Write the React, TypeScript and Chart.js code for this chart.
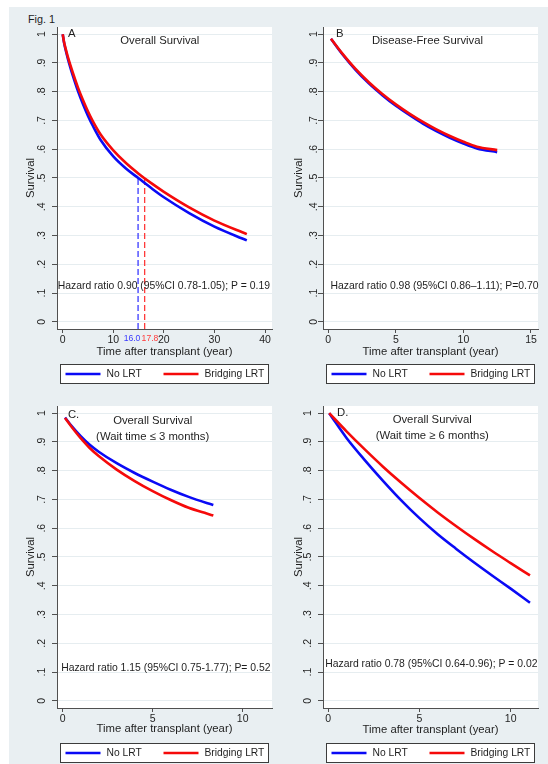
import React, { useEffect, useRef } from 'react';
import { Chart, registerables } from 'chart.js';

Chart.register(...registerables);

const FONT = '"Liberation Sans", Arial, Helvetica, sans-serif';

// ---------- shared ----------
const seriesLabels = ['No LRT', 'Bridging LRT'];
const seriesColors = ['#0a0af5', '#f50a0a'];
const yTicks = [0, 0.1, 0.2, 0.3, 0.4, 0.5, 0.6, 0.7, 0.8, 0.9, 1];
const yTickLabels = ['0', '.1', '.2', '.3', '.4', '.5', '.6', '.7', '.8', '.9', '1'];
const xAxisTitle = 'Time after transplant (year)';
const yAxisTitle = 'Survival';

// ---------- Panel A: Overall Survival ----------
const aTime = [0, 0.25, 0.5, 1, 1.5, 2, 3, 4, 5, 6, 7.5, 10, 12.5, 15, 17.5, 20, 25, 30, 36.4];
const aNoLRT = [1, 0.972, 0.951, 0.916, 0.885, 0.856, 0.803, 0.757, 0.716, 0.68, 0.632, 0.575, 0.533, 0.499, 0.465, 0.433, 0.378, 0.331, 0.283];
const aBridging = [1, 0.974, 0.955, 0.922, 0.893, 0.866, 0.815, 0.771, 0.731, 0.696, 0.651, 0.596, 0.552, 0.515, 0.482, 0.452, 0.398, 0.352, 0.305];
const aXTicks = [0, 10, 20, 30, 40];
const aMedianX = [14.9, 16.2];
const aMedianLabels = ['16.0', '17.8'];
const aMedianLabelX = [13.7, 17.25];
const aHazard = 'Hazard ratio 0.90 (95%CI 0.78-1.05); P = 0.19';

// ---------- Panel B: Disease-Free Survival ----------
const bTime = [0.2, 1, 2, 3, 4, 5, 6, 7, 8, 9, 10, 11, 12.5];
const bNoLRT = [0.984, 0.933, 0.877, 0.829, 0.788, 0.751, 0.719, 0.689, 0.663, 0.64, 0.62, 0.603, 0.59];
const bBridging = [0.984, 0.935, 0.88, 0.833, 0.792, 0.756, 0.724, 0.695, 0.669, 0.646, 0.626, 0.609, 0.597];
const bXTicks = [0, 5, 10, 15];
const bHazard = 'Hazard ratio 0.98 (95%CI 0.86\u20131.11); P=0.70';

// ---------- Panel C: Overall Survival, wait <= 3 months ----------
const cTime = [0.13, 0.5, 1, 1.5, 2, 3, 4, 5, 6, 7, 8, 8.37];
const cNoLRT = [0.985, 0.955, 0.92, 0.89, 0.866, 0.826, 0.792, 0.762, 0.734, 0.709, 0.688, 0.681];
const cBridging = [0.983, 0.952, 0.913, 0.879, 0.851, 0.804, 0.764, 0.729, 0.698, 0.671, 0.651, 0.644];
const cXTicks = [0, 5, 10];
const cHazard = 'Hazard ratio 1.15 (95%CI 0.75-1.77); P= 0.52';

// ---------- Panel D: Overall Survival, wait >= 6 months ----------
const dTime = [0.05, 1, 2, 3, 4, 5, 6, 7, 8, 9, 10, 11.06];
const dNoLRT = [1, 0.914, 0.837, 0.765, 0.697, 0.635, 0.579, 0.529, 0.481, 0.435, 0.39, 0.341];
const dBridging = [1, 0.937, 0.874, 0.814, 0.758, 0.705, 0.655, 0.608, 0.563, 0.52, 0.479, 0.436];
const dXTicks = [0, 5, 10];
const dHazard = 'Hazard ratio 0.78 (95%CI 0.64-0.96); P = 0.02';

type Panel = {
  key: string;
  left: number;
  top: number;
  time: number[];
  noLRT: number[];
  bridging: number[];
  xMin: number;
  xMax: number;
  xTicks: number[];
  letter: string;
  letterX: number;
  letterY: number;
  title: string[];
  titleX: number;
  titleY: number[];
  hazard: string;
  hazardX: number;
  hazardY: number;
  yLabelGap: number;
  yTitleX: number;
  xTitleGap: number;
  medians: boolean;
};

const Y_MIN = -0.025;
const Y_MAX = 1.025;
const CW = 282;
const CH = 390;

const panels: Panel[] = [
  {
    key: 'A', left: 0, top: 0, time: aTime, noLRT: aNoLRT, bridging: aBridging,
    xMin: -1.13, xMax: 41.38, xTicks: aXTicks,
    letter: 'A', letterX: 1.05, letterY: 1.0,
    title: ['Overall Survival'], titleX: 19.2, titleY: [0.977],
    hazard: aHazard, hazardX: 20.0, hazardY: 0.1225,
    yLabelGap: 14.5, yTitleX: 30.5, xTitleGap: 22.5, medians: true,
  },
  {
    key: 'B', left: 266, top: 0, time: bTime, noLRT: bNoLRT, bridging: bBridging,
    xMin: -0.39, xMax: 15.52, xTicks: bXTicks,
    letter: 'B', letterX: 0.57, letterY: 1.0,
    title: ['Disease-Free Survival'], titleX: 7.34, titleY: [0.977],
    hazard: bHazard, hazardX: 7.86, hazardY: 0.1225,
    yLabelGap: 8.5, yTitleX: 32.7, xTitleGap: 22.5, medians: false,
  },
  {
    key: 'C', left: 0, top: 379, time: cTime, noLRT: cNoLRT, bridging: cBridging,
    xMin: -0.317, xMax: 11.63, xTicks: cXTicks,
    letter: 'C.', letterX: 0.29, letterY: 0.994,
    title: ['Overall Survival', '(Wait time \u2264 3 months)'], titleX: 5.0, titleY: [0.972, 0.916],
    hazard: cHazard, hazardX: 5.73, hazardY: 0.114,
    yLabelGap: 14.5, yTitleX: 30.5, xTitleGap: 20.5, medians: false,
  },
  {
    key: 'D', left: 266, top: 379, time: dTime, noLRT: dNoLRT, bridging: dBridging,
    xMin: -0.29, xMax: 11.5, xTicks: dXTicks,
    letter: 'D.', letterX: 0.48, letterY: 1.0,
    title: ['Overall Survival', '(Wait time \u2265 6 months)'], titleX: 5.7, titleY: [0.977, 0.921],
    hazard: dHazard, hazardX: 5.65, hazardY: 0.127,
    yLabelGap: 14.5, yTitleX: 32.7, xTitleGap: 21.5, medians: false,
  },
];

const TEXT = '#1e1e1e';
const AXIS = '#505050';
const GRID = '#e6edf0';

function makePlugin(p: Panel) {
  return {
    id: 'panelDecor' + p.key,
    beforeDraw(chart: any) {
      const { ctx, chartArea: ca } = chart;
      ctx.save();
      ctx.fillStyle = '#ffffff';
      ctx.fillRect(ca.left, ca.top, ca.right - ca.left, ca.bottom - ca.top);
      ctx.restore();
    },
    afterDraw(chart: any) {
      const { ctx, chartArea: ca } = chart;
      const xs = chart.scales.x;
      const ys = chart.scales.y;
      ctx.save();
      // rotated y tick labels
      ctx.fillStyle = TEXT;
      ctx.font = `10.5px ${FONT}`;
      ctx.textAlign = 'center';
      ctx.textBaseline = 'middle';
      yTicks.forEach((v, i) => {
        const py = ys.getPixelForValue(v);
        ctx.save();
        ctx.translate(ca.left - p.yLabelGap, py);
        ctx.rotate(-Math.PI / 2);
        ctx.fillText(yTickLabels[i], 0, 0);
        ctx.restore();
      });
      // panel letter
      ctx.font = `11.3px ${FONT}`;
      ctx.textAlign = 'left';
      ctx.fillText(p.letter, xs.getPixelForValue(p.letterX), ys.getPixelForValue(p.letterY));
      // panel title
      ctx.textAlign = 'center';
      p.title.forEach((t, i) => {
        ctx.fillText(t, xs.getPixelForValue(p.titleX), ys.getPixelForValue(p.titleY[i]));
      });
      // hazard ratio
      ctx.font = `10.4px ${FONT}`;
      ctx.fillText(p.hazard, xs.getPixelForValue(p.hazardX), ys.getPixelForValue(p.hazardY));
      // median labels
      if (p.medians) {
        ctx.font = `8.6px ${FONT}`;
        aMedianLabels.forEach((t, i) => {
          ctx.fillStyle = i === 0 ? '#3a3aff' : '#ff3a3a';
          ctx.fillText(t, xs.getPixelForValue(aMedianLabelX[i]), ca.bottom + 10);
        });
      }
      // legend box
      const bx = Math.round(ca.left + 3) + 0.5;
      const by = Math.round(ca.bottom + 35) + 0.5;
      const bw = 208;
      const bh = 19;
      ctx.fillStyle = '#ffffff';
      ctx.fillRect(bx, by, bw, bh);
      ctx.strokeStyle = '#3c3c3c';
      ctx.lineWidth = 1;
      ctx.strokeRect(bx, by, bw, bh);
      const my = by + bh / 2;
      const itemOffsets = [5, 103];
      ctx.font = `10.3px ${FONT}`;
      ctx.textAlign = 'left';
      seriesLabels.forEach((lab, i) => {
        const x0 = bx + itemOffsets[i];
        ctx.strokeStyle = seriesColors[i];
        ctx.lineWidth = 2.6;
        ctx.beginPath();
        ctx.moveTo(x0, my);
        ctx.lineTo(x0 + 35, my);
        ctx.stroke();
        ctx.fillStyle = TEXT;
        ctx.fillText(lab, x0 + 41, my + 0.5);
      });
      ctx.restore();
    },
  };
}

function PanelChart({ p }: { p: Panel }) {
  const ref = useRef<HTMLCanvasElement | null>(null);
  useEffect(() => {
    const canvas = ref.current;
    if (!canvas) return;
    const datasets: any[] = [
      {
        label: seriesLabels[0],
        data: p.time.map((t, i) => ({ x: t, y: p.noLRT[i] })),
        borderColor: seriesColors[0],
        borderWidth: 2.6,
        pointRadius: 0,
        cubicInterpolationMode: 'monotone',
        fill: false,
        order: 1,
      },
      {
        label: seriesLabels[1],
        data: p.time.map((t, i) => ({ x: t, y: p.bridging[i] })),
        borderColor: seriesColors[1],
        borderWidth: 2.6,
        pointRadius: 0,
        cubicInterpolationMode: 'monotone',
        fill: false,
        order: 0,
      },
    ];
    if (p.medians) {
      aMedianX.forEach((mx, i) => {
        datasets.push({
          label: 'median ' + seriesLabels[i],
          data: [{ x: mx, y: Y_MIN }, { x: mx, y: 0.5 }],
          borderColor: i === 0 ? '#3a3aff' : '#ff3a3a',
          borderWidth: 1.3,
          borderDash: [6, 3],
          pointRadius: 0,
          fill: false,
          order: 3,
        });
      });
    }
    const chart = new Chart(canvas, {
      type: 'line',
      data: { datasets },
      options: {
        responsive: false,
        maintainAspectRatio: false,
        animation: false,
        events: [],
        layout: { padding: { left: 0, right: CW - 272, top: 27, bottom: 0 } },
        plugins: {
          legend: { display: false },
          tooltip: { enabled: false },
          title: { display: false },
        },
        scales: {
          x: {
            type: 'linear',
            min: p.xMin,
            max: p.xMax,
            afterBuildTicks: (s: any) => {
              s.ticks = p.xTicks.map((v) => ({ value: v }));
            },
            afterFit: (s: any) => {
              s.height = CH - 329;
            },
            ticks: {
              autoSkip: false,
              maxRotation: 0,
              minRotation: 0,
              padding: 1,
              color: TEXT,
              font: { family: FONT, size: 10.5 },
              callback: (v: any) => String(v),
            },
            grid: {
              drawOnChartArea: false,
              drawTicks: true,
              tickLength: 4,
              tickColor: AXIS,
              color: AXIS,
            },
            border: { display: true, color: AXIS, width: 1 },
            title: {
              display: true,
              text: xAxisTitle,
              color: TEXT,
              font: { family: FONT, size: 11.3 },
              padding: { top: 0, bottom: CH - 329 - p.xTitleGap - 6.78 },
            },
          },
          y: {
            type: 'linear',
            min: Y_MIN,
            max: Y_MAX,
            afterBuildTicks: (s: any) => {
              s.ticks = yTicks.map((v) => ({ value: v }));
            },
            afterFit: (s: any) => {
              s.width = 57;
            },
            ticks: { display: false },
            grid: {
              drawOnChartArea: true,
              drawTicks: true,
              tickLength: 5,
              tickColor: AXIS,
              color: GRID,
              lineWidth: 1,
            },
            border: { display: true, color: AXIS, width: 1 },
            title: {
              display: true,
              text: yAxisTitle,
              color: TEXT,
              font: { family: FONT, size: 11.3 },
              padding: { top: p.yTitleX - 6.78, bottom: 0 },
            },
          },
        },
      } as any,
      plugins: [makePlugin(p)],
    });
    return () => chart.destroy();
  }, [p]);
  return (
    <canvas
      ref={ref}
      width={CW}
      height={CH}
      style={{ position: 'absolute', left: p.left, top: p.top, width: CW, height: CH }}
    />
  );
}

export default function App() {
  return (
    <div
      style={{
        position: 'absolute',
        left: 0,
        top: 0,
        width: 548,
        height: 764,
        overflow: 'hidden',
        background: '#ffffff',
      }}
    >
      <div
        style={{
          position: 'absolute',
          left: 9,
          top: 7,
          width: 539,
          height: 757,
          background: '#e9eff2',
        }}
      />
      <div
        style={{
          position: 'absolute',
          left: 28,
          top: 13,
          fontFamily: FONT,
          fontSize: 10.8,
          lineHeight: '12px',
          color: TEXT,
        }}
      >
        Fig. 1
      </div>
      {panels.map((p) => (
        <PanelChart key={p.key} p={p} />
      ))}
    </div>
  );
}
